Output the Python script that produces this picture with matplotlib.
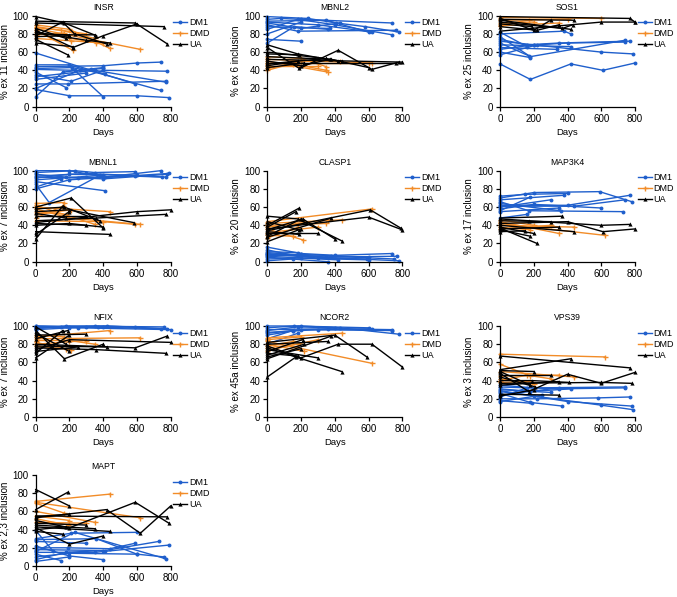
import matplotlib
matplotlib.use("Agg")
import matplotlib.pyplot as plt
from matplotlib.lines import Line2D

plt.rcParams['font.family'] = ['Liberation Sans', 'DejaVu Sans']

BLUE = '#1f5fcc'
ORANGE = '#f28c28'
BLACK = '#000000'

GROUPS = ['DM1', 'DMD', 'UA']
X_TICKS = [0, 200, 400, 600, 800]
Y_TICKS = [0, 20, 40, 60, 80, 100]

# ---------------- INSR ----------------
INSR_DM1 = [[(0,59),(590,25)], [(0,46),(195,46),(740,18)], [(0,44),(400,45),(600,48),(740,49)],
            [(0,42),(215,43),(410,36)], [(0,38),(180,21)], [(0,35),(210,28),(400,40),(780,39)],
            [(0,33),(350,40),(770,27)], [(0,30),(300,37)], [(0,25),(190,25),(770,28)],
            [(0,19),(200,12),(600,12),(790,10)], [(0,11),(160,38),(400,43)],
            [(0,20),(260,40),(330,41),(400,42)], [(0,41),(230,40),(400,11)]]
INSR_DMD = [[(0,90),(200,85),(440,64)], [(0,88),(300,80)], [(0,86),(620,63)], [(0,84),(220,62)],
            [(0,82),(360,70)], [(0,79),(170,81),(210,72)], [(0,75),(400,70)], [(0,87),(150,84),(350,75)]]
INSR_UA = [[(0,99),(170,92),(360,78)], [(0,94),(590,92),(780,69)], [(0,92),(760,88)], [(0,86),(180,75)],
           [(0,84),(220,65),(400,78),(600,91)], [(0,80),(200,79),(350,79)],
           [(0,78),(160,93),(230,80),(420,69)], [(0,74),(190,57)], [(0,70),(220,66)],
           [(0,82),(300,73),(440,70)], [(0,77),(200,78)]]

# ---------------- MBNL2 ----------------
MBNL2_DM1 = [[(0,99),(240,97),(410,92),(580,88),(780,82)], [(0,96),(80,97),(200,96),(740,92)],
             [(0,94),(350,95),(600,82)], [(0,92),(200,86),(430,92)], [(0,90),(180,83),(760,84)],
             [(0,88),(370,86)], [(0,85),(180,96),(400,90),(740,79)], [(0,80),(200,93)],
             [(0,74),(200,72)], [(0,70),(160,88),(360,85)], [(0,93),(300,90),(620,82)]]
MBNL2_DMD = [[(0,55),(200,53),(350,44)], [(0,52),(620,48)], [(0,50),(360,38)], [(0,47),(200,50)],
             [(0,45),(300,45)], [(0,42),(150,47),(350,40)], [(0,40),(200,50),(430,50)], [(0,48),(600,48)]]
MBNL2_UA = [[(0,68),(180,58),(420,50)], [(0,65),(190,42),(420,62),(620,41),(780,49)],
            [(0,60),(300,54),(440,50)], [(0,58),(190,57)], [(0,55),(380,52),(600,43)],
            [(0,52),(800,49)], [(0,50),(200,45),(370,52)], [(0,48),(760,48)], [(0,47),(350,53)],
            [(0,45),(180,50)], [(0,43),(220,48)]]

# ---------------- SOS1 ----------------
SOS1_DM1 = [[(0,47),(180,30),(420,47),(610,40),(800,48)], [(0,80),(380,83),(420,80)],
            [(0,77),(180,55),(740,73)], [(0,74),(160,68),(350,70),(770,72)],
            [(0,72),(200,68),(600,60),(790,58)], [(0,70),(170,56)], [(0,68),(420,66)],
            [(0,65),(340,63)], [(0,63),(200,68)], [(0,60),(180,54)],
            [(0,57),(220,68),(400,70),(740,71)], [(0,82),(160,66)]]
SOS1_DMD = [[(0,98),(600,97)], [(0,95),(400,96)], [(0,92),(200,93)], [(0,89),(350,92)], [(0,90),(170,95)]]
SOS1_UA = [[(0,99),(770,97),(800,93)], [(0,97),(200,84),(300,95)], [(0,95),(420,85)],
           [(0,93),(370,86),(430,90)], [(0,91),(190,88)], [(0,83),(600,93),(800,93)],
           [(0,96),(440,95)], [(0,88),(220,84),(350,90)]]

# ---------------- MBNL1 ----------------
MBNL1_DM1 = [[(0,100),(200,100),(410,93),(740,100)], [(0,98),(230,100),(350,98),(590,99)],
             [(0,96),(180,93),(400,91),(780,96)], [(0,94),(300,97),(770,93)],
             [(0,92),(200,96),(600,95)], [(0,90),(400,95)], [(0,88),(410,78)],
             [(0,85),(80,65),(380,95)], [(0,82),(150,91)], [(0,80),(200,90),(790,97)],
             [(0,93),(250,92),(590,94),(750,93)]]
MBNL1_DMD = [[(0,64),(170,65)], [(0,62),(350,41)], [(0,60),(440,55)], [(0,58),(200,48),(620,41)],
             [(0,55),(180,52)], [(0,52),(210,57)], [(0,48),(160,61)], [(0,45),(400,44),(590,41)]]
MBNL1_UA = [[(0,60),(210,70),(400,37)], [(0,58),(170,60),(380,45)], [(0,55),(200,57),(580,43)],
            [(0,53),(180,48)], [(0,50),(300,50)], [(0,45),(360,48),(770,52)],
            [(0,43),(600,55),(800,57)], [(0,42),(300,40)], [(0,40),(200,42),(400,38)],
            [(0,33),(440,30)], [(0,30),(200,55)], [(0,25),(160,61)]]

# ---------------- CLASP1 ----------------
CLASP1_DM1 = [[(0,16),(200,9),(400,7),(740,9)], [(0,13),(180,6),(780,1)], [(0,10),(350,5),(770,6)],
              [(0,8),(200,8),(600,5)], [(0,6),(420,2)], [(0,5),(360,0)], [(0,3),(200,4),(600,2)],
              [(0,1),(150,3)], [(0,9),(300,4),(590,3)], [(0,11),(180,10)], [(0,7),(380,6),(750,3)]]
CLASP1_DMD = [[(0,44),(620,58)], [(0,42),(440,46)], [(0,40),(350,42)], [(0,36),(210,24)],
              [(0,32),(300,38)], [(0,26),(180,38)], [(0,38),(360,46)], [(0,29),(150,28)]]
CLASP1_UA = [[(0,50),(180,47),(440,23)], [(0,40),(190,59)], [(0,38),(170,55)],
             [(0,36),(600,49),(800,35)], [(0,35),(210,47),(400,25)], [(0,33),(190,30)],
             [(0,31),(300,31)], [(0,28),(200,47)], [(0,22),(200,36)], [(0,27),(380,48)],
             [(0,34),(610,57),(790,37)], [(0,44),(190,35)]]

# ---------------- MAP3K4 ----------------
MAP3K4_DM1 = [[(0,72),(150,74),(400,75)], [(0,70),(200,76),(590,77),(780,66)], [(0,68),(380,73)],
              [(0,66),(170,56),(730,55)], [(0,64),(360,56)], [(0,62),(400,62),(770,73)],
              [(0,60),(300,68)], [(0,58),(200,63),(600,59)], [(0,56),(180,71)], [(0,55),(350,59)],
              [(0,48),(160,52)], [(0,61),(440,61),(740,68)]]
MAP3K4_DMD = [[(0,46),(200,40)], [(0,44),(350,31)], [(0,42),(620,29)], [(0,40),(440,38)],
              [(0,38),(180,35)], [(0,36),(300,40)]]
MAP3K4_UA = [[(0,48),(370,50)], [(0,47),(170,45),(600,40),(770,41)], [(0,45),(300,44)],
             [(0,42),(400,44),(610,33),(800,36)], [(0,40),(440,33)], [(0,38),(200,31)],
             [(0,37),(220,20)], [(0,35),(180,28)], [(0,36),(350,38)], [(0,33),(150,34)]]

# ---------------- NFIX ----------------
NFIX_DM1 = [[(0,100),(200,99),(420,100),(780,97)], [(0,99),(350,100),(590,99)],
            [(0,98),(300,99),(740,97)], [(0,97),(180,100),(760,99)], [(0,96),(200,98),(400,99)],
            [(0,99),(250,98),(800,96)], [(0,98),(150,99)], [(0,100),(370,99)]]
NFIX_DMD = [[(0,88),(440,95)], [(0,86),(620,87)], [(0,84),(200,84),(350,80)], [(0,82),(180,75)],
            [(0,80),(300,84)], [(0,78),(210,74)], [(0,90),(170,88)]]
NFIX_UA = [[(0,99),(180,80)], [(0,95),(170,64),(400,80)], [(0,92),(200,72)], [(0,90),(300,91)],
           [(0,86),(190,95)], [(0,80),(590,76),(780,89)], [(0,78),(420,77)],
           [(0,76),(360,74),(770,70)], [(0,74),(200,85),(800,82)], [(0,72),(250,77)],
           [(0,70),(160,95)], [(0,65),(200,90)]]

# ---------------- NCOR2 ----------------
NCOR2_DM1 = [[(0,100),(200,100),(430,98),(780,91)], [(0,98),(160,100),(600,98)],
             [(0,96),(360,97),(740,96)], [(0,95),(180,99),(400,98)], [(0,93),(300,96),(620,97)],
             [(0,92),(150,95)], [(0,90),(200,96),(740,95)], [(0,86),(150,95)], [(0,80),(180,92)]]
NCOR2_DMD = [[(0,87),(440,92)], [(0,85),(200,88)], [(0,83),(620,59)], [(0,80),(220,72)],
             [(0,78),(150,83)], [(0,76),(180,80)], [(0,73),(300,85)]]
NCOR2_UA = [[(0,82),(400,90),(590,66)], [(0,80),(360,83)], [(0,78),(200,65),(420,80),(620,80),(800,55)],
            [(0,76),(440,50)], [(0,74),(300,65)], [(0,70),(180,67)], [(0,68),(220,80)],
            [(0,66),(200,75)], [(0,64),(380,89)], [(0,44),(170,66)], [(0,72),(210,85)]]

# ---------------- VPS39 ----------------
VPS39_DM1 = [[(0,35),(200,32),(740,33)], [(0,33),(350,31),(740,32)], [(0,31),(180,28),(420,31)],
             [(0,30),(300,27)], [(0,29),(400,17),(780,12)], [(0,28),(200,23),(600,13),(790,8)],
             [(0,26),(180,16),(370,12)], [(0,24),(350,32)], [(0,22),(160,32)],
             [(0,20),(220,20),(580,21),(770,22)], [(0,18),(190,15)], [(0,17),(250,24)]]
VPS39_DMD = [[(0,69),(620,66)], [(0,58),(180,45)], [(0,50),(440,44)], [(0,45),(350,46)],
             [(0,42),(200,36)], [(0,40),(160,46),(300,42)], [(0,38),(190,39)]]
VPS39_UA = [[(0,67),(770,54)], [(0,52),(420,64)], [(0,51),(200,50)], [(0,50),(180,35)],
            [(0,48),(170,28),(400,47),(600,37),(800,49)], [(0,46),(300,46)], [(0,44),(210,33)],
            [(0,40),(190,40),(410,38)], [(0,37),(600,38),(780,37)], [(0,35),(350,39)],
            [(0,25),(350,24)], [(0,23),(200,30)]]

# ---------------- MAPT ----------------
MAPT_DM1 = [[(0,30),(210,36),(600,37)], [(0,29),(360,30),(600,13),(760,10)], [(0,27),(300,25)],
            [(0,22),(200,11),(400,7)], [(0,20),(190,20),(440,19),(590,25)],
            [(0,18),(410,17),(730,27)], [(0,16),(230,37),(770,8)], [(0,15),(350,15),(790,23)],
            [(0,13),(150,6)], [(0,10),(200,14),(600,13)], [(0,7),(180,15),(400,17)],
            [(0,5),(200,10)], [(0,39),(100,17)]]
MAPT_DMD = [[(0,71),(440,79)], [(0,70),(620,53)], [(0,69),(170,58)], [(0,60),(350,48)],
            [(0,55),(200,50)], [(0,52),(190,45)], [(0,48),(300,47)]]
MAPT_UA = [[(0,84),(200,66)], [(0,62),(190,81)], [(0,55),(780,54)], [(0,54),(200,57)],
           [(0,53),(420,62),(620,36),(800,66)], [(0,50),(200,42),(590,70),(790,47)],
           [(0,47),(300,45)], [(0,45),(350,41)], [(0,43),(440,38)], [(0,42),(200,24),(400,33)],
           [(0,40),(180,43)], [(0,38),(160,35)]]

PANELS = [
    ('INSR', '% ex 11 inclusion', INSR_DM1, INSR_DMD, INSR_UA),
    ('MBNL2', '% ex 6 inclusion', MBNL2_DM1, MBNL2_DMD, MBNL2_UA),
    ('SOS1', '% ex 25 inclusion', SOS1_DM1, SOS1_DMD, SOS1_UA),
    ('MBNL1', '% ex 7 inclusion', MBNL1_DM1, MBNL1_DMD, MBNL1_UA),
    ('CLASP1', '% ex 20 inclusion', CLASP1_DM1, CLASP1_DMD, CLASP1_UA),
    ('MAP3K4', '% ex 17 inclusion', MAP3K4_DM1, MAP3K4_DMD, MAP3K4_UA),
    ('NFIX', '% ex 7 inclusion', NFIX_DM1, NFIX_DMD, NFIX_UA),
    ('NCOR2', '% ex 45a inclusion', NCOR2_DM1, NCOR2_DMD, NCOR2_UA),
    ('VPS39', '% ex 3 inclusion', VPS39_DM1, VPS39_DMD, VPS39_UA),
    ('MAPT', '% ex 2,3 inclusion', MAPT_DM1, MAPT_DMD, MAPT_UA),
]

STYLES = {
    'DM1': dict(color=BLUE, marker='o', ms=2.8, mew=0),
    'DMD': dict(color=ORANGE, marker='+', ms=3.6, mew=1.0),
    'UA': dict(color=BLACK, marker='^', ms=3.0, mew=0),
}

W, H = 677, 597
fig = plt.figure(figsize=(W / 100, H / 100), dpi=100)

col_left = [35.7, 267.3, 500.0]
row_bottom = [106.7, 261.7, 417.0, 566.0]
ax_w = 135.0
ax_h = 91.0
FS = 7
LW = 1.0

for i, (gene, ylab, dm1, dmd, ua) in enumerate(PANELS):
    r, c = divmod(i, 3)
    left = col_left[c] / W
    bottom = 1 - row_bottom[r] / H
    ax = fig.add_axes([left, bottom, ax_w / W, ax_h / H])
    for grp, trajs in zip(GROUPS, (dm1, dmd, ua)):
        st = STYLES[grp]
        for t in trajs:
            xs = [p[0] for p in t]
            ys = [p[1] for p in t]
            ax.plot(xs, ys, color=st['color'], lw=LW, marker=st['marker'],
                    ms=st['ms'], mew=st['mew'], mec=st['color'], clip_on=False)
    ax.set_xlim(0, 800)
    ax.set_ylim(0, 100)
    ax.set_xticks(X_TICKS)
    ax.set_yticks(Y_TICKS)
    for s in ('top', 'right'):
        ax.spines[s].set_visible(False)
    for s in ('left', 'bottom'):
        ax.spines[s].set_linewidth(0.9)
    ax.tick_params(direction='out', length=3, width=0.9, labelsize=FS, pad=2)
    ax.set_title(gene, fontsize=6.2, pad=4)
    ax.set_ylabel(ylab, fontsize=FS, labelpad=2)
    ax.set_xlabel('Days', fontsize=6.8, labelpad=3)
    handles = [Line2D([], [], color=STYLES[g]['color'], lw=LW, marker=STYLES[g]['marker'],
                      ms=STYLES[g]['ms'], mew=STYLES[g]['mew'], mec=STYLES[g]['color'])
               for g in GROUPS]
    ax.legend(handles, GROUPS, loc='upper left', bbox_to_anchor=(1.0, 1.0), frameon=False,
              fontsize=6.5, handlelength=1.55, handletextpad=0.2, labelspacing=0.22,
              borderpad=0.15, borderaxespad=0.15)

fig.savefig('out.png', dpi=100)
